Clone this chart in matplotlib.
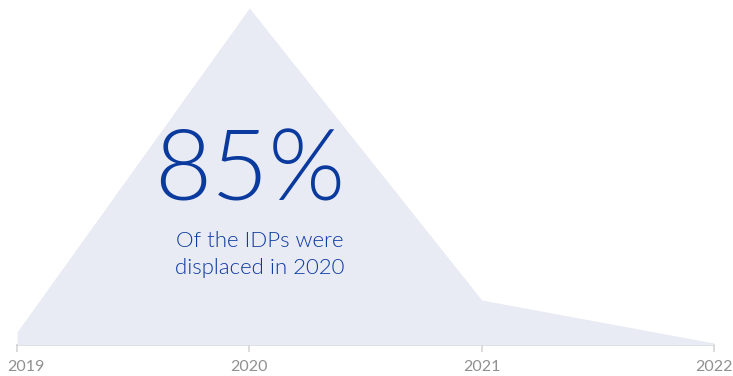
import matplotlib.pyplot as plt
import matplotlib.transforms as mtransforms

# IDPs displaced per year (estimated from the area heights, thousands)
years = ['2019', '2020', '2021', '2022']
displaced = [13, 337, 45, 2]
headline = '85%'
caption = 'Of the IDPs were\ndisplaced in 2020'

fill_color = '#e8eaf4'
text_blue = '#0a3a9e'
axis_gray = '#d6d6d6'
label_gray = '#909090'

plt.rcParams['font.family'] = ['Lato', 'DejaVu Sans']

fig = plt.figure(figsize=(7.33, 3.76), dpi=100)
ax = fig.add_axes([17 / 733, 31 / 376, 697 / 733, 337 / 376])

x = list(range(len(years)))
ax.fill_between(x, displaced, 0, color=fill_color, linewidth=0, clip_on=False)

ax.set_xlim(0, len(years) - 1)
ax.set_ylim(0, max(displaced))

for side in ['top', 'right', 'left']:
    ax.spines[side].set_visible(False)
ax.spines['bottom'].set_color(axis_gray)
ax.spines['bottom'].set_linewidth(1.5)
ax.spines['bottom'].set_zorder(0)
ax.set_yticks([])

ax.set_xticks(x)
ax.set_xticklabels(years, fontsize=11.5, color=label_gray)
ax.tick_params(axis='x', length=5, width=1.2, color=axis_gray, pad=6)

# nudge the first label so it stays inside the figure
first = ax.get_xticklabels()[0]
first.set_transform(first.get_transform() + mtransforms.ScaledTranslation(9 / 100, 0, fig.dpi_scale_trans))

# headline annotation
ax.text(1.0, 0.43, headline, transform=ax.get_xaxis_transform(), ha='center', va='baseline',
        fontsize=71, fontweight=300, color=text_blue)
ax.text(1.046, 0.21, caption, transform=ax.get_xaxis_transform(), ha='center', va='baseline',
        fontsize=16, fontweight=300, color=text_blue, linespacing=1.45, multialignment='center')

fig.savefig('out.png', dpi=100)
